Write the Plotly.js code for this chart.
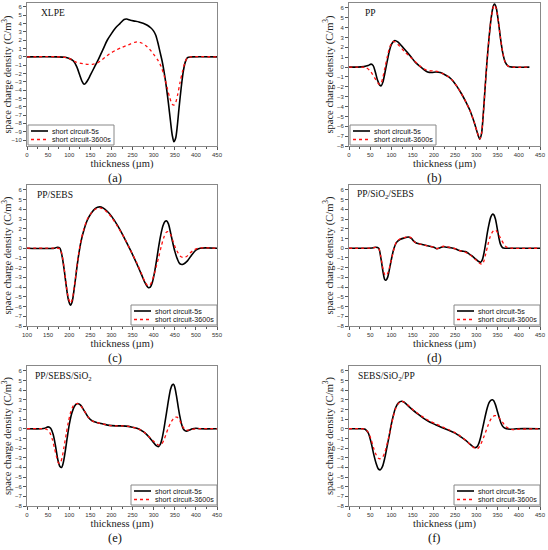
<!DOCTYPE html>
<html><head><meta charset="utf-8">
<script src="https://cdn.plot.ly/plotly-3.0.1.min.js"></script>
<style>html,body{margin:0;padding:0;background:#fff;}#chart{width:548px;height:550px;}</style>
</head><body><div id="chart"></div>
<script>
// ---- data ----
const seriesNames = ['short circuit-5s', 'short circuit-3600s'];
const panelNames = ['XLPE', 'PP', 'PP/SEBS', 'PP/SiO<sub>2</sub>/SEBS', 'PP/SEBS/SiO<sub>2</sub>', 'SEBS/SiO<sub>2</sub>/PP'];
const panelTags = ['(a)', '(b)', '(c)', '(d)', '(e)', '(f)'];
const xTitle = 'thickness (µm)';
const yTitle = 'space charge density (C/m<sup>3</sup>)';

// (a) XLPE
const ax5  = [0, 70, 90, 100, 110, 118, 125, 130, 135, 140, 145, 150, 160, 170, 180, 190, 200, 210, 220, 230, 236, 245, 255, 265, 275, 285, 293, 300, 305, 310, 315, 320, 325, 330, 335, 340, 344, 348, 352, 356, 360, 365, 370, 375, 380, 390, 450];
const ay5  = [0, 0, -0.05, -0.2, -0.5, -1.2, -2.2, -2.9, -3.3, -3.1, -2.7, -2.2, -1.2, -0.2, 0.9, 2.0, 2.8, 3.5, 4.0, 4.5, 4.55, 4.4, 4.3, 4.2, 4.05, 3.8, 3.5, 3.1, 2.6, 1.7, 0.6, -0.5, -1.9, -3.6, -5.6, -7.8, -9.4, -10.2, -9.8, -8.3, -6.2, -3.8, -1.8, -0.6, -0.1, 0, 0];
const ax36 = [0, 80, 95, 105, 115, 125, 135, 145, 155, 165, 175, 185, 195, 210, 225, 240, 255, 262, 270, 280, 290, 300, 310, 318, 325, 332, 338, 344, 348, 352, 357, 362, 368, 374, 380, 390, 450];
const ay36 = [0, 0, -0.1, -0.3, -0.6, -0.75, -0.85, -0.9, -0.9, -0.75, -0.45, -0.05, 0.35, 0.8, 1.15, 1.45, 1.75, 1.8, 1.7, 1.4, 0.95, 0.3, -0.4, -1.2, -2.3, -3.7, -4.9, -5.7, -5.8, -5.5, -4.5, -3.2, -1.8, -0.7, -0.1, 0, 0];

// (b) PP
const bx5  = [0, 20, 35, 45, 52, 57, 62, 67, 72, 76, 80, 85, 90, 95, 100, 108, 115, 125, 135, 145, 155, 165, 175, 185, 195, 205, 215, 225, 235, 245, 255, 265, 275, 285, 295, 302, 308, 312, 316, 320, 325, 330, 335, 340, 343, 347, 352, 357, 362, 368, 375, 385, 425];
const by5  = [0, 0, 0.05, 0.15, 0.3, 0.15, -0.5, -1.3, -1.8, -1.9, -1.5, -0.5, 0.6, 1.6, 2.3, 2.7, 2.55, 2.1, 1.6, 1.1, 0.55, 0.15, -0.2, -0.5, -0.55, -0.5, -0.55, -0.75, -1.0, -1.4, -2.0, -2.7, -3.5, -4.4, -5.6, -6.6, -7.3, -6.8, -5.0, -2.5, 0.5, 3.0, 5.0, 6.2, 6.4, 6.0, 4.6, 2.9, 1.5, 0.5, 0.1, 0, 0];
const bx36 = [0, 30, 40, 48, 55, 62, 68, 72, 76, 80, 85, 90, 95, 100, 104, 110, 120, 130, 140, 150, 160, 170, 180, 190, 200, 210, 220, 230, 235, 245, 255, 265, 275, 285, 295, 302, 308, 312, 316, 320, 325, 330, 335, 340, 343, 347, 352, 357, 362, 368, 375, 385, 425];
const by36 = [0, 0, -0.05, -0.3, -0.7, -1.2, -1.6, -1.75, -1.6, -1.0, 0.0, 1.0, 1.9, 2.4, 2.6, 2.5, 2.1, 1.6, 1.2, 0.8, 0.4, 0.0, -0.25, -0.35, -0.4, -0.45, -0.65, -0.85, -1.0, -1.4, -2.0, -2.7, -3.5, -4.4, -5.6, -6.6, -7.3, -6.8, -5.0, -2.5, 0.5, 3.0, 5.0, 6.1, 6.3, 5.9, 4.6, 2.9, 1.5, 0.5, 0.1, 0, 0];

// (c) PP/SEBS
const cx5  = [100, 165, 172, 178, 183, 188, 193, 198, 203, 207, 212, 217, 222, 228, 235, 243, 252, 262, 272, 280, 290, 300, 315, 330, 345, 360, 372, 380, 387, 392, 397, 402, 407, 412, 417, 422, 427, 431, 435, 440, 445, 450, 456, 462, 470, 480, 490, 500, 510, 550];
const cy5  = [0, 0, 0.1, 0, -0.8, -2.2, -3.9, -5.3, -5.85, -5.5, -4.1, -2.4, -0.8, 0.7, 1.9, 2.9, 3.6, 4.1, 4.25, 4.15, 3.8, 3.3, 2.3, 1.1, -0.2, -1.6, -2.8, -3.6, -4.05, -4.0, -3.5, -2.5, -1.2, 0.2, 1.4, 2.3, 2.75, 2.8, 2.5, 1.6, 0.6, -0.3, -1.1, -1.6, -1.65, -1.3, -0.7, -0.2, 0, 0];
const cx36 = [100, 170, 178, 183, 188, 193, 198, 203, 207, 212, 217, 222, 228, 235, 243, 252, 262, 272, 280, 290, 300, 315, 330, 345, 360, 372, 380, 386, 391, 396, 401, 406, 412, 418, 424, 429, 434, 440, 446, 452, 458, 464, 471, 478, 486, 495, 505, 550];
const cy36 = [0, 0, -0.05, -0.7, -2.1, -3.8, -5.1, -5.65, -5.3, -4.0, -2.3, -0.7, 0.8, 2.0, 3.0, 3.6, 4.0, 4.15, 4.05, 3.7, 3.2, 2.2, 1.1, -0.2, -1.5, -2.7, -3.5, -3.85, -3.8, -3.4, -2.7, -1.9, -0.9, 0.2, 1.1, 1.6, 1.7, 1.4, 0.7, 0.0, -0.5, -0.85, -0.95, -0.85, -0.5, -0.2, 0, 0];

// (d) PP/SiO2/SEBS
const dx5  = [0, 55, 63, 70, 75, 80, 84, 87, 91, 96, 101, 106, 112, 120, 130, 140, 147, 153, 160, 170, 180, 190, 200, 207, 215, 222, 230, 240, 250, 258, 266, 274, 282, 290, 298, 305, 310, 314, 318, 322, 326, 330, 334, 338, 341, 345, 349, 353, 357, 362, 368, 375, 450];
const dy5  = [0, 0.02, 0.1, 0.0, -1.0, -2.4, -3.2, -3.3, -3.0, -2.0, -0.9, 0.0, 0.6, 0.9, 1.05, 1.15, 1.0, 0.7, 0.5, 0.4, 0.3, 0.2, 0.1, -0.05, 0.05, 0.15, 0.1, 0.05, -0.05, -0.2, -0.3, -0.35, -0.55, -0.8, -1.1, -1.35, -1.45, -1.2, -0.5, 0.5, 1.6, 2.5, 3.2, 3.5, 3.45, 3.0, 2.1, 1.1, 0.4, 0.05, 0, 0, 0];
const dx36 = [0, 55, 63, 70, 75, 80, 84, 88, 92, 97, 102, 107, 112, 120, 130, 140, 147, 153, 160, 170, 180, 190, 200, 207, 215, 222, 230, 240, 250, 258, 266, 274, 282, 290, 298, 305, 310, 314, 318, 322, 327, 332, 337, 342, 346, 350, 355, 360, 365, 370, 376, 382, 450];
const dy36 = [0, 0.02, 0.08, -0.05, -0.9, -2.1, -2.7, -2.8, -2.5, -1.7, -0.8, 0.1, 0.65, 0.95, 1.1, 1.2, 1.05, 0.7, 0.5, 0.4, 0.3, 0.2, 0.1, -0.05, 0.05, 0.2, 0.15, 0.05, -0.05, -0.2, -0.3, -0.4, -0.6, -0.85, -1.15, -1.45, -1.6, -1.65, -1.3, -0.6, 0.3, 1.1, 1.6, 1.85, 1.85, 1.6, 1.2, 0.8, 0.4, 0.15, 0.03, 0, 0];

// (e) PP/SEBS/SiO2
const ex5  = [0, 35, 42, 50, 56, 62, 68, 73, 78, 82, 86, 90, 95, 100, 106, 112, 118, 122, 128, 135, 145, 155, 165, 180, 195, 210, 225, 240, 250, 260, 270, 280, 290, 300, 306, 311, 316, 320, 324, 328, 332, 336, 340, 344, 347, 350, 354, 358, 362, 366, 370, 374, 378, 384, 392, 400, 410, 450];
const ey5  = [0, 0, 0.05, 0.2, 0.05, -0.6, -1.9, -3.2, -3.9, -4.0, -3.5, -2.5, -1.0, 0.4, 1.6, 2.3, 2.6, 2.6, 2.4, 1.9, 1.2, 0.8, 0.65, 0.5, 0.35, 0.3, 0.3, 0.25, 0.15, 0.05, -0.15, -0.45, -0.9, -1.45, -1.75, -1.85, -1.6, -1.0, -0.1, 1.0, 2.1, 3.2, 4.1, 4.55, 4.6, 4.3, 3.4, 2.3, 1.3, 0.5, 0.0, -0.2, -0.25, -0.15, 0.0, 0.05, 0, 0];
const ex36 = [0, 40, 48, 54, 60, 65, 70, 74, 77, 80, 84, 88, 93, 98, 104, 110, 116, 120, 126, 135, 145, 155, 165, 180, 195, 210, 225, 240, 250, 260, 270, 280, 290, 300, 308, 314, 319, 324, 329, 334, 340, 346, 351, 355, 360, 365, 370, 375, 380, 388, 400, 450];
const ey36 = [0, 0, -0.1, -0.4, -1.1, -2.0, -2.9, -3.5, -3.6, -3.45, -2.8, -1.8, -0.5, 0.7, 1.8, 2.4, 2.6, 2.6, 2.45, 1.9, 1.2, 0.8, 0.65, 0.5, 0.35, 0.3, 0.3, 0.25, 0.15, 0.05, -0.15, -0.45, -0.85, -1.3, -1.6, -1.7, -1.6, -1.2, -0.6, 0.0, 0.6, 1.0, 1.2, 1.2, 1.0, 0.55, 0.15, -0.1, -0.15, -0.08, 0, 0];

// (f) SEBS/SiO2/PP
const fx5  = [0, 30, 38, 45, 52, 58, 64, 69, 74, 79, 84, 89, 94, 99, 104, 110, 117, 124, 130, 140, 150, 160, 175, 190, 205, 220, 235, 250, 262, 275, 285, 292, 298, 302, 306, 310, 314, 318, 322, 326, 330, 334, 338, 341, 345, 349, 353, 358, 363, 368, 375, 385, 395, 450];
const fy5  = [0, 0, -0.05, -0.4, -1.4, -2.6, -3.6, -4.15, -4.25, -3.9, -3.1, -2.0, -0.9, 0.3, 1.3, 2.2, 2.7, 2.85, 2.75, 2.35, 1.95, 1.6, 1.1, 0.7, 0.4, 0.1, -0.15, -0.45, -0.8, -1.2, -1.6, -1.85, -1.95, -1.85, -1.5, -0.9, -0.1, 0.7, 1.5, 2.2, 2.7, 2.95, 3.0, 2.9, 2.5, 1.9, 1.3, 0.6, 0.2, 0.05, -0.02, -0.05, 0, 0];
const fx36 = [0, 30, 38, 45, 52, 58, 64, 69, 74, 79, 84, 89, 94, 99, 104, 110, 117, 124, 130, 140, 150, 160, 175, 190, 205, 220, 235, 250, 262, 275, 285, 292, 298, 303, 308, 313, 318, 323, 328, 333, 338, 343, 347, 352, 357, 362, 367, 372, 378, 388, 398, 450];
const fy36 = [0, 0, -0.05, -0.35, -1.1, -2.0, -2.7, -3.05, -3.1, -2.95, -2.5, -1.7, -0.8, 0.2, 1.2, 2.1, 2.65, 2.85, 2.75, 2.4, 2.0, 1.65, 1.2, 0.8, 0.5, 0.2, -0.1, -0.4, -0.75, -1.2, -1.6, -1.9, -2.05, -2.05, -1.8, -1.35, -0.8, -0.2, 0.4, 0.9, 1.2, 1.35, 1.35, 1.2, 0.95, 0.65, 0.35, 0.15, 0.0, -0.1, -0.05, 0];

// axis tick values
const xTicks0 = [0, 50, 100, 150, 200, 250, 300, 350, 400, 450];
const xTicks100 = [100, 150, 200, 250, 300, 350, 400, 450, 500, 550];
const yTicksA = [-10, -9, -8, -7, -6, -5, -4, -3, -2, -1, 0, 1, 2, 3, 4, 5, 6];
const yTicks = [-8, -7, -6, -5, -4, -3, -2, -1, 0, 1, 2, 3, 4, 5, 6];

// ---- layout helpers ----
const W = 548, H = 550;
const px = p => p / W, py = p => 1 - p / H;
const cols = [[27, 217], [349, 540]];
const rows = [[3, 146], [185, 326], [366, 506]];

const panels = [
  {x5: ax5, y5: ay5, x36: ax36, y36: ay36, xr: [0, 450], yr: [-10.72, 6.48], xt: xTicks0, yt: yTicksA, legRight: false},
  {x5: bx5, y5: by5, x36: bx36, y36: by36, xr: [0, 450], yr: [-8, 6.5], xt: xTicks0, yt: yTicks, legRight: false},
  {x5: cx5, y5: cy5, x36: cx36, y36: cy36, xr: [100, 550], yr: [-8, 6.5], xt: xTicks100, yt: yTicks, legRight: true},
  {x5: dx5, y5: dy5, x36: dx36, y36: dy36, xr: [0, 450], yr: [-8, 6.5], xt: xTicks0, yt: yTicks, legRight: true},
  {x5: ex5, y5: ey5, x36: ex36, y36: ey36, xr: [0, 450], yr: [-8, 6.5], xt: xTicks0, yt: yTicks, legRight: true},
  {x5: fx5, y5: fy5, x36: fx36, y36: fy36, xr: [0, 450], yr: [-8, 6.5], xt: xTicks0, yt: yTicks, legRight: true}
];
const nameOffset = [12, 14, 8, 6, 6, 7];

const serif = 'Liberation Serif';
const sans = 'Liberation Sans';

const traces = [];
const layout = {
  width: W, height: H, margin: {l: 0, r: 0, t: 0, b: 0},
  paper_bgcolor: '#fff', plot_bgcolor: '#fff', showlegend: false,
  annotations: [], shapes: []
};

panels.forEach((p, i) => {
  const c = cols[i % 2], r = rows[Math.floor(i / 2)];
  const n = i === 0 ? '' : String(i + 1);
  const xa = 'x' + n, ya = 'y' + n;
  traces.push({x: p.x5, y: p.y5, xaxis: xa, yaxis: ya, type: 'scatter', mode: 'lines', name: seriesNames[0],
    line: {color: '#000', width: 1.6, shape: 'spline', smoothing: 0.8}, hoverinfo: 'skip'});
  traces.push({x: p.x36, y: p.y36, xaxis: xa, yaxis: ya, type: 'scatter', mode: 'lines', name: seriesNames[1],
    line: {color: '#ff1010', width: 1.3, dash: 'dot', shape: 'spline', smoothing: 0.8}, hoverinfo: 'skip'});
  layout['xaxis' + n] = {
    domain: [px(c[0]), px(c[1])], anchor: ya, range: p.xr, tickvals: p.xt,
    showline: true, mirror: true, linecolor: '#888', linewidth: 1,
    ticks: 'outside', ticklen: 3, tickcolor: '#555', tickwidth: 1,
    minor: {dtick: 25, ticks: 'outside', ticklen: 2, tickcolor: '#555'},
    showgrid: false, zeroline: false, automargin: false,
    tickfont: {family: sans, size: 6, color: '#333'},
    title: {text: xTitle, font: {family: serif, size: 10.5, color: '#222'}, standoff: 1}
  };
  layout['yaxis' + n] = {
    domain: [py(r[1]), py(r[0])], anchor: xa, range: p.yr, tickvals: p.yt,
    showline: true, mirror: true, linecolor: '#888', linewidth: 1,
    ticks: 'outside', ticklen: 3, tickcolor: '#555', tickwidth: 1,
    showgrid: false, zeroline: false, automargin: false,
    tickfont: {family: sans, size: 6, color: '#333'},
    title: {text: yTitle, font: {family: serif, size: 10.5, color: '#222'}, standoff: 1}
  };
  // panel name
  layout.annotations.push({xref: 'paper', yref: 'paper', x: px(c[0] + nameOffset[i]), y: py(r[0] + 10),
    xanchor: 'left', yanchor: 'middle', showarrow: false, text: panelNames[i],
    font: {family: serif, size: 9.5, color: '#111'}});
  // panel tag
  layout.annotations.push({xref: 'paper', yref: 'paper', x: px(i % 2 === 0 ? 115 : 435), y: py(r[1] + 32),
    xanchor: 'center', yanchor: 'middle', showarrow: false, text: panelTags[i],
    font: {family: serif, size: 12.5, color: '#111'}});
  // legend box
  const lw = 86, lh = 20;
  const L = p.legRight ? c[1] - lw : c[0] + 1;
  const T = r[1] - lh - 1;
  layout.shapes.push({type: 'rect', xref: 'paper', yref: 'paper', x0: px(L), x1: px(L + lw), y0: py(T + lh), y1: py(T),
    line: {color: '#888', width: 1}, fillcolor: '#fff', layer: 'above'});
  const rowsY = [T + 6, T + 14.5];
  const styles = [{color: '#000', width: 1.6}, {color: '#ff1010', width: 1.3, dash: 'dot'}];
  rowsY.forEach((yy, k) => {
    layout.shapes.push({type: 'line', xref: 'paper', yref: 'paper', x0: px(L + 3), x1: px(L + 20), y0: py(yy), y1: py(yy),
      line: styles[k], layer: 'above'});
    layout.annotations.push({xref: 'paper', yref: 'paper', x: px(L + 22), y: py(yy), xanchor: 'left', yanchor: 'middle',
      showarrow: false, text: seriesNames[k], font: {family: sans, size: 7.2, color: '#111'}});
  });
});

Plotly.newPlot('chart', traces, layout, {staticPlot: true, displayModeBar: false});
</script>
</body></html>
